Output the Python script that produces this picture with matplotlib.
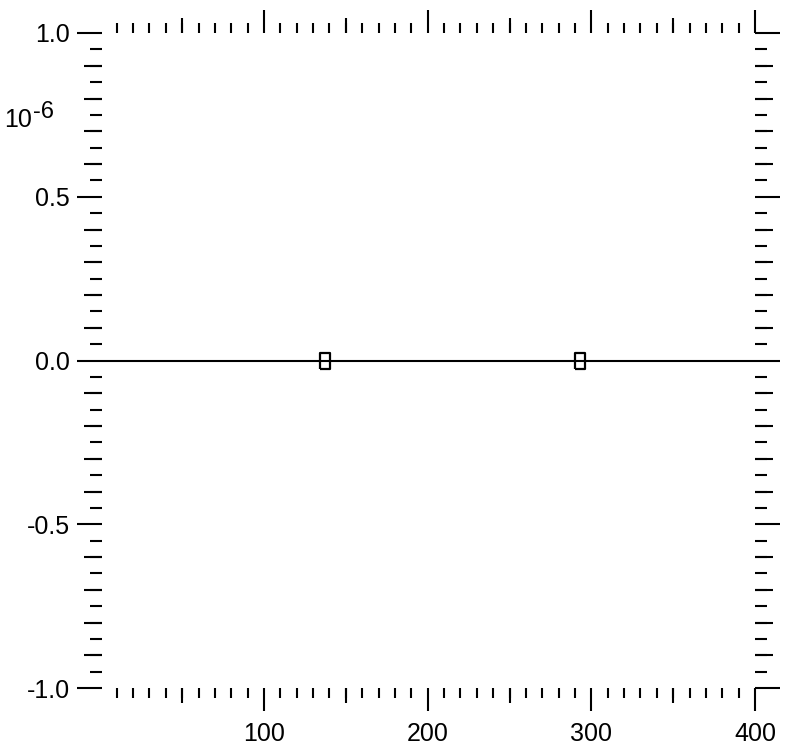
import numpy as np
import matplotlib
matplotlib.use('Agg')
import matplotlib.pyplot as plt
from matplotlib.ticker import MultipleLocator, FixedLocator, FuncFormatter, NullFormatter

plt.rcParams['font.family'] = ['Liberation Sans', 'DejaVu Sans']
plt.rcParams['axes.unicode_minus'] = False

# data
line_x = [1, 400]
line_y = [0.0, 0.0]
marker_x = [137, 293]
marker_y = [0.0, 0.0]

x_range = (1, 400)
y_range = (-1e-6, 1e-6)
y_scale = 1e-6

fig = plt.figure(figsize=(7.9, 7.52), dpi=100)
pos = [102 / 790, 1 - 688 / 752, (755 - 102) / 790, (688 - 33) / 752]
ax = fig.add_axes(pos)

ax.plot(line_x, line_y, color='black', lw=1.5, solid_capstyle='butt', zorder=3)
box = [(-0.33, -0.5), (0.33, -0.5), (0.33, 0.5), (-0.33, 0.5), (-0.33, -0.5)]
ax.plot(marker_x, marker_y, ls='none', marker=box, markersize=11,
        mfc='none', mec='black', mew=1.6, zorder=4)

ax.set_xlim(*x_range)
ax.set_ylim(*y_range)
for s in ax.spines.values():
    s.set_visible(False)

# major / minor ticks
ax.xaxis.set_major_locator(MultipleLocator(100))
ax.xaxis.set_minor_locator(MultipleLocator(10))
ax.yaxis.set_major_locator(MultipleLocator(0.5 * y_scale))
ax.yaxis.set_minor_locator(MultipleLocator(0.05 * y_scale))
ax.yaxis.set_major_formatter(FuncFormatter(lambda v, p: f'{v / y_scale:.1f}'))
ax.xaxis.set_major_formatter(FuncFormatter(lambda v, p: f'{v:.0f}'))

ax.tick_params(axis='both', which='both', direction='out', top=True, right=True,
               width=1.5, color='black', labelsize=18)
ax.tick_params(axis='x', which='major', length=16.5, pad=8)
ax.tick_params(axis='x', which='minor', length=7)
ax.tick_params(axis='y', which='major', length=18, pad=5)
ax.tick_params(axis='y', which='minor', length=8.5)

# medium ticks (every 50 on x, every 0.1 on y) on an overlay axes
ax2 = fig.add_axes(pos)
ax2.patch.set_visible(False)
for s in ax2.spines.values():
    s.set_visible(False)
ax2.set_xlim(*x_range)
ax2.set_ylim(*y_range)
mx = np.arange(50, 401, 100)
my = np.array([-0.9, -0.8, -0.7, -0.6, -0.4, -0.3, -0.2, -0.1,
               0.1, 0.2, 0.3, 0.4, 0.6, 0.7, 0.8, 0.9]) * y_scale
ax2.xaxis.set_major_locator(FixedLocator(mx))
ax2.yaxis.set_major_locator(FixedLocator(my))
ax2.xaxis.set_major_formatter(NullFormatter())
ax2.yaxis.set_major_formatter(NullFormatter())
ax2.tick_params(axis='both', which='major', direction='out', top=True, right=True,
                width=1.5, color='black')
ax2.tick_params(axis='x', length=11)
ax2.tick_params(axis='y', length=13.3)

# exponent label
fig.text(4 / 790, 1 - 127 / 752, '10', fontsize=18, va='baseline', ha='left')
fig.text(33 / 790, 1 - 118 / 752, '-6', fontsize=17, va='baseline', ha='left')

fig.savefig('out.png', dpi=100)
